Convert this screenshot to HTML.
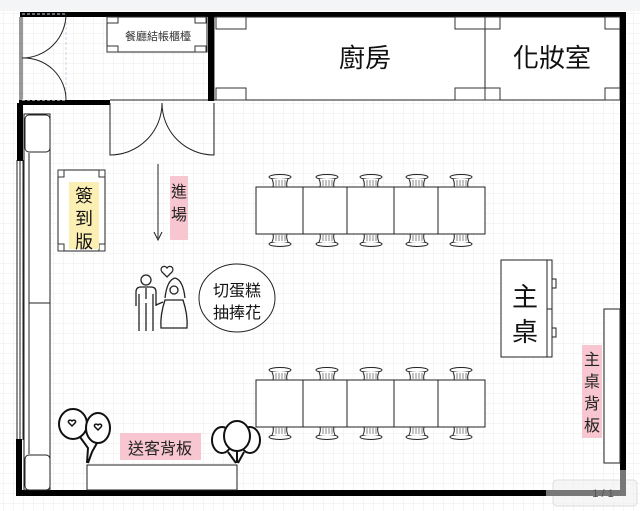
<!DOCTYPE html>
<html><head><meta charset="utf-8"><style>
html,body{margin:0;padding:0;background:#fff;}
svg{display:block;}
text{font-family:"Liberation Sans","Noto Sans CJK TC",sans-serif;}
</style></head><body>
<svg width="640" height="511" viewBox="0 0 640 511" xmlns="http://www.w3.org/2000/svg">
<defs>
<pattern id="g" width="10" height="10" patternUnits="userSpaceOnUse" x="3" y="3">
<path d="M10 0H0V10" fill="none" stroke="#ebebeb" stroke-width="1"/>
</pattern>
<g id="chairT">
<ellipse cx="0" cy="0" rx="11" ry="2.5" fill="#fff" stroke="#222" stroke-width="1"/>
<path d="M-8 2 Q-6 6 -7 10 L7 10 Q6 6 8 2" fill="#fff" stroke="#222" stroke-width="1"/>
<path d="M-4 3V9M-1 3V9M2 3V9M5 3V9" stroke="#555" stroke-width="0.7"/>
</g>
<g id="chairB">
<ellipse cx="0" cy="0" rx="11" ry="2.5" fill="#fff" stroke="#222" stroke-width="1"/>
<path d="M-8 -2 Q-6 -6 -7 -10 L7 -10 Q6 -6 8 -2" fill="#fff" stroke="#222" stroke-width="1"/>
<path d="M-4 -3V-9M-1 -3V-9M2 -3V-9M5 -3V-9" stroke="#555" stroke-width="0.7"/>
</g>
</defs>
<rect width="640" height="511" fill="#fff"/>
<rect width="640" height="511" fill="url(#g)"/>
<rect width="640" height="11" fill="#f4f5f7"/>

<rect x="20" y="12" width="605" height="5" fill="#000"/>
<rect x="214" y="17" width="406" height="83" fill="#fff" stroke="#222" stroke-width="1"/>
<line x1="485" y1="17" x2="485" y2="100" stroke="#222"/>
<g fill="#fff" stroke="#333" stroke-width="1">
<rect x="216" y="17" width="30" height="12"/><rect x="216" y="88" width="30" height="12"/>
<rect x="455" y="17" width="30" height="12"/><rect x="455" y="88" width="30" height="12"/>
<rect x="485" y="17" width="15" height="12"/><rect x="485" y="88" width="15" height="12"/>
<rect x="605" y="17" width="15" height="12"/><rect x="605" y="88" width="15" height="12"/>
</g>
<text x="365" y="67" font-size="26" text-anchor="middle" fill="#111">廚房</text>
<text x="552" y="67" font-size="26" text-anchor="middle" fill="#111">化妝室</text>
<rect x="208" y="17" width="6" height="84" fill="#000"/>
<rect x="620" y="12" width="6" height="458" fill="#000"/>

<rect x="107" y="17" width="100" height="35" fill="#fff" stroke="#222"/>
<g fill="#fff" stroke="#333"><rect x="107" y="17" width="11" height="6"/><rect x="195" y="17" width="11" height="6"/><rect x="107" y="46" width="11" height="6"/><rect x="195" y="46" width="11" height="6"/></g>
<text x="158" y="40" font-size="11" text-anchor="middle" fill="#333">餐廳結帳櫃檯</text>

<line x1="20" y1="17" x2="20" y2="100" stroke="#333"/>
<line x1="22" y1="17" x2="22" y2="100" stroke="#333"/>
<line x1="22" y1="14" x2="66" y2="14" stroke="#cdd" stroke-dasharray="3 2"/>
<line x1="66" y1="17" x2="66" y2="100" stroke="#c8d4e0" stroke-dasharray="3 2"/>
<path d="M22 58 A44 44 0 0 0 66 14" fill="none" stroke="#222"/>
<path d="M22 58 A42 42 0 0 1 66 100" fill="none" stroke="#222"/>
<rect x="19" y="100" width="91" height="5" fill="#000"/>
<line x1="22" y1="100" x2="66" y2="100" stroke="#fff" stroke-dasharray="3 2"/>
<line x1="110" y1="100" x2="208" y2="100" stroke="#222"/>
<path d="M110 103 V155 A52 52 0 0 0 162 103" fill="none" stroke="#222"/>
<path d="M214 103 V155 A52 52 0 0 1 162 103" fill="none" stroke="#222"/>

<rect x="17" y="103" width="6" height="58" fill="#000"/>
<line x1="17" y1="160" x2="17" y2="440" stroke="#222"/>
<line x1="20" y1="160" x2="20" y2="440" stroke="#222"/>
<line x1="23" y1="160" x2="23" y2="440" stroke="#222"/>
<rect x="16" y="439" width="6" height="57" fill="#000"/>
<rect x="16" y="490" width="534" height="6" fill="#000"/>

<rect x="24" y="114" width="26" height="376" fill="#fff" stroke="#222"/>
<rect x="25" y="115" width="25" height="37" rx="4" fill="#fff" stroke="#222"/>
<line x1="29" y1="153" x2="29" y2="454" stroke="#222"/>
<line x1="29" y1="303" x2="50" y2="303" stroke="#222"/>
<rect x="25" y="455" width="25" height="35" rx="4" fill="#fff" stroke="#222"/>

<rect x="58" y="170" width="47" height="81" fill="#fff" stroke="#222"/>
<g fill="#fff" stroke="#333"><rect x="58" y="170" width="6" height="7"/><rect x="99" y="170" width="6" height="7"/><rect x="58" y="244" width="6" height="7"/><rect x="99" y="244" width="6" height="7"/></g>
<rect x="69" y="182" width="30" height="67" fill="#fcefb4"/>
<text x="84" y="202" font-size="18" text-anchor="middle" fill="#111">簽</text>
<text x="84" y="225" font-size="18" text-anchor="middle" fill="#111">到</text>
<text x="84" y="248" font-size="18" text-anchor="middle" fill="#111">版</text>

<line x1="158" y1="164" x2="158" y2="238" stroke="#222"/>
<path d="M154 232 L158 240 L162 232" fill="none" stroke="#222"/>
<rect x="170" y="176" width="18" height="64" fill="#f7c6d0"/>
<text x="179" y="197" font-size="16" text-anchor="middle" fill="#222">進</text>
<text x="179" y="220" font-size="16" text-anchor="middle" fill="#222">場</text>

<g fill="#fff" stroke="#222">
<rect x="256" y="187" width="229" height="47"/>
<rect x="256" y="380" width="229" height="47"/>
</g>
<g stroke="#222">
<line x1="303" y1="187" x2="303" y2="234"/><line x1="347" y1="187" x2="347" y2="234"/><line x1="394" y1="187" x2="394" y2="234"/><line x1="438" y1="187" x2="438" y2="234"/>
<line x1="303" y1="380" x2="303" y2="427"/><line x1="347" y1="380" x2="347" y2="427"/><line x1="394" y1="380" x2="394" y2="427"/><line x1="438" y1="380" x2="438" y2="427"/>
</g>
<g>
<use href="#chairT" x="280" y="177"/><use href="#chairT" x="327" y="177"/><use href="#chairT" x="371" y="177"/><use href="#chairT" x="417" y="177"/><use href="#chairT" x="461" y="177"/>
<use href="#chairB" x="280" y="244"/><use href="#chairB" x="327" y="244"/><use href="#chairB" x="371" y="244"/><use href="#chairB" x="417" y="244"/><use href="#chairB" x="461" y="244"/>
<use href="#chairT" x="280" y="370"/><use href="#chairT" x="327" y="370"/><use href="#chairT" x="371" y="370"/><use href="#chairT" x="417" y="370"/><use href="#chairT" x="461" y="370"/>
<use href="#chairB" x="280" y="437"/><use href="#chairB" x="327" y="437"/><use href="#chairB" x="371" y="437"/><use href="#chairB" x="417" y="437"/><use href="#chairB" x="461" y="437"/>
</g>

<rect x="501" y="260" width="51" height="97" fill="#fff" stroke="#222"/>
<line x1="547" y1="260" x2="547" y2="357" stroke="#222"/>
<line x1="547" y1="309" x2="552" y2="309" stroke="#222"/>
<rect x="552" y="279" width="4" height="9" fill="#fff" stroke="#222"/>
<rect x="552" y="328" width="4" height="9" fill="#fff" stroke="#222"/>
<text x="525" y="306" font-size="26" text-anchor="middle" fill="#111">主</text>
<text x="525" y="341" font-size="26" text-anchor="middle" fill="#111">桌</text>

<rect x="604" y="309" width="16" height="154" fill="#fff" stroke="#222"/>
<rect x="582" y="345" width="20" height="93" fill="#f7c6d0"/>
<text x="592" y="365" font-size="16" text-anchor="middle" fill="#222">主</text>
<text x="592" y="387" font-size="16" text-anchor="middle" fill="#222">桌</text>
<text x="592" y="409" font-size="16" text-anchor="middle" fill="#222">背</text>
<text x="592" y="431" font-size="16" text-anchor="middle" fill="#222">板</text>

<g fill="none" stroke="#222" stroke-width="1.3">
<path d="M167 268 c-3 -4 -8 0 -5 4 l5 5 l5 -5 c3 -4 -2 -8 -5 -4z"/>
<circle cx="146" cy="280" r="5"/>
<path d="M136 306 V292 q0 -5 5 -5 h10 q5 0 5 5 V306 M139 294V331 M153 294V331 M146 303V331 M146 288V299"/>
<path d="M175 278 q-8 2 -10 20 M175 278 q8 2 10 20"/>
<circle cx="174" cy="290" r="4"/>
<path d="M165 300 q-5 15 -4 28 h26 q1 -13 -4 -28 z"/>
<path d="M156 305 l7 -3"/>
</g>
<ellipse cx="237" cy="298" rx="38" ry="34" fill="#fff" stroke="#222"/>
<text x="237" y="296" font-size="16" text-anchor="middle" fill="#111">切蛋糕</text>
<text x="237" y="318" font-size="16" text-anchor="middle" fill="#111">抽捧花</text>

<g fill="#fff" stroke="#111" stroke-width="2">
<ellipse cx="73" cy="424" rx="14" ry="15"/>
<ellipse cx="98" cy="428" rx="12" ry="15"/>
<path d="M80 437 L88 448 L87 463 M97 443 L92 452 L88 463"/>
<path d="M72 421 c-2 -2 -5 0 -3 2 l3 3 l3 -3 c2 -2 -1 -4 -3 -2z M98 425 c-2 -2 -5 0 -3 2 l3 3 l3 -3 c2 -2 -1 -4 -3 -2z" stroke-width="1.5"/>
</g>
<g fill="#fff" stroke="#111" stroke-width="2">
<ellipse cx="222" cy="440" rx="10" ry="13"/>
<ellipse cx="250" cy="440" rx="10" ry="13"/>
<ellipse cx="237" cy="436" rx="13" ry="15"/>
<path d="M228 452 L236 463 M237 451 V463 M244 452 L238 463"/>
</g>
<rect x="87" y="465" width="150" height="25" fill="#fff" stroke="#222"/>
<rect x="120" y="433" width="81" height="27" fill="#f7c6d0"/>
<text x="160" y="454" font-size="16" text-anchor="middle" fill="#222">送客背板</text>

<rect x="553" y="480" width="84" height="26" rx="4" fill="rgba(240,240,240,0.6)" stroke="#ddd"/>
<rect x="546" y="490" width="80" height="6" fill="#777"/>
<rect x="620" y="470" width="6" height="26" fill="#777"/>
<text x="603" y="497" font-size="11" text-anchor="middle" fill="#555">1 / 1</text>
</svg>
</body></html>
